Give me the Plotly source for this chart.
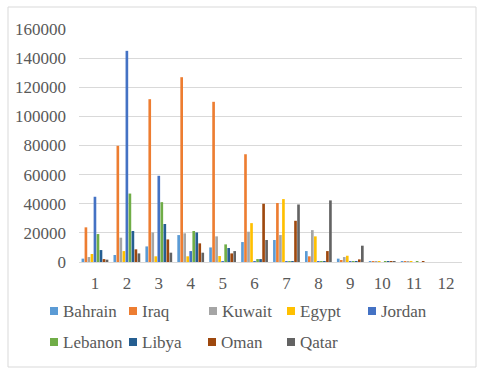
import plotly.graph_objects as go

categories = ["1", "2", "3", "4", "5", "6", "7", "8", "9", "10", "11", "12"]

bahrain = [2300, 4800, 10700, 18500, 10000, 13700, 15100, 7500, 2300, 600, 600, 0]
iraq = [23800, 79800, 111800, 126900, 110000, 74000, 40500, 3900, 1100, 600, 600, 0]
kuwait = [3400, 16700, 20300, 19700, 17600, 20800, 18500, 21900, 3400, 600, 600, 0]
egypt = [5500, 7500, 3900, 3900, 4100, 26700, 43200, 17600, 4300, 600, 600, 0]
jordan = [44800, 145000, 59200, 7500, 500, 500, 500, 500, 500, 0, 0, 0]
lebanon = [19200, 47000, 41100, 21300, 12100, 2000, 500, 500, 500, 600, 600, 0]
libya = [8200, 21300, 26100, 20300, 9600, 2000, 500, 500, 500, 600, 0, 0]
oman = [2000, 8700, 15500, 12800, 5900, 40000, 28300, 7500, 1800, 600, 600, 0]
qatar = [1600, 5900, 6400, 6400, 7500, 15100, 39500, 42300, 11200, 600, 0, 0]

series_names = ["Bahrain", "Iraq", "Kuwait", "Egypt", "Jordan", "Lebanon", "Libya", "Oman", "Qatar"]
series_values = [bahrain, iraq, kuwait, egypt, jordan, lebanon, libya, oman, qatar]
series_colors = ["#5B9BD5", "#ED7D31", "#A5A5A5", "#FFC000", "#4472C4",
                 "#70AD47", "#255E91", "#9E480E", "#636363"]

y_ticks = [0, 20000, 40000, 60000, 80000, 100000, 120000, 140000, 160000]

FONT = "Liberation Serif"
TXT = "#595959"

# plot area in pixels
L, R, T, B = 79, 462, 29, 262
W, H = R - L, B - T


def px_x(p):
    return (p - L) / W


def px_y(p):
    return (B - p) / H


fig = go.Figure()
for name, vals, col in zip(series_names, series_values, series_colors):
    fig.add_trace(go.Bar(x=categories, y=vals, name=name, marker_color=col,
                         marker_line_width=0, showlegend=False))

fig.update_layout(
    width=480, height=374,
    margin=dict(l=L, r=480 - R, t=T, b=374 - B, autoexpand=False),
    paper_bgcolor="white", plot_bgcolor="white",
    barmode="group", bargap=0.15, bargroupgap=0.12,
    font=dict(family=FONT, size=17, color=TXT),
    showlegend=False,
)
fig.update_xaxes(type="category", showgrid=False, showline=True, linecolor="#D9D9D9",
                 linewidth=1, ticks="", ticklabelstandoff=6,
                 tickfont=dict(family=FONT, size=17, color=TXT))
fig.update_yaxes(range=[0, 160000], tickvals=y_ticks, ticktext=[str(v) for v in y_ticks],
                 showgrid=True, gridcolor="#D9D9D9", gridwidth=1, zeroline=True,
                 zerolinecolor="#D9D9D9", zerolinewidth=1, showline=False, ticks="",
                 ticklabelstandoff=12, tickfont=dict(family=FONT, size=17, color=TXT))

# outer chart border
fig.add_shape(type="rect", xref="paper", yref="paper",
              x0=px_x(8), x1=px_x(476), y0=px_y(367), y1=px_y(7),
              line=dict(color="#D9D9D9", width=1), fillcolor="rgba(0,0,0,0)", layer="below")

# legend (two rows, Excel-like layout)
legend_pos = [(50, 311), (129, 311), (209, 311), (287, 311), (368, 311),
              (50, 342), (129, 342), (208, 342), (287, 342)]
for name, col, (sx, sy) in zip(series_names, series_colors, legend_pos):
    fig.add_shape(type="rect", xref="paper", yref="paper",
                  x0=px_x(sx), x1=px_x(sx + 8), y0=px_y(sy + 4), y1=px_y(sy - 4),
                  line=dict(width=0), fillcolor=col)
    fig.add_annotation(text=name, xref="paper", yref="paper",
                       x=px_x(sx + 11), y=px_y(sy), xanchor="left", yanchor="middle",
                       showarrow=False, font=dict(family=FONT, size=17, color=TXT))

fig.write_html("out.html", config={"displayModeBar": False},
               post_script="document.body.style.margin='0';")
